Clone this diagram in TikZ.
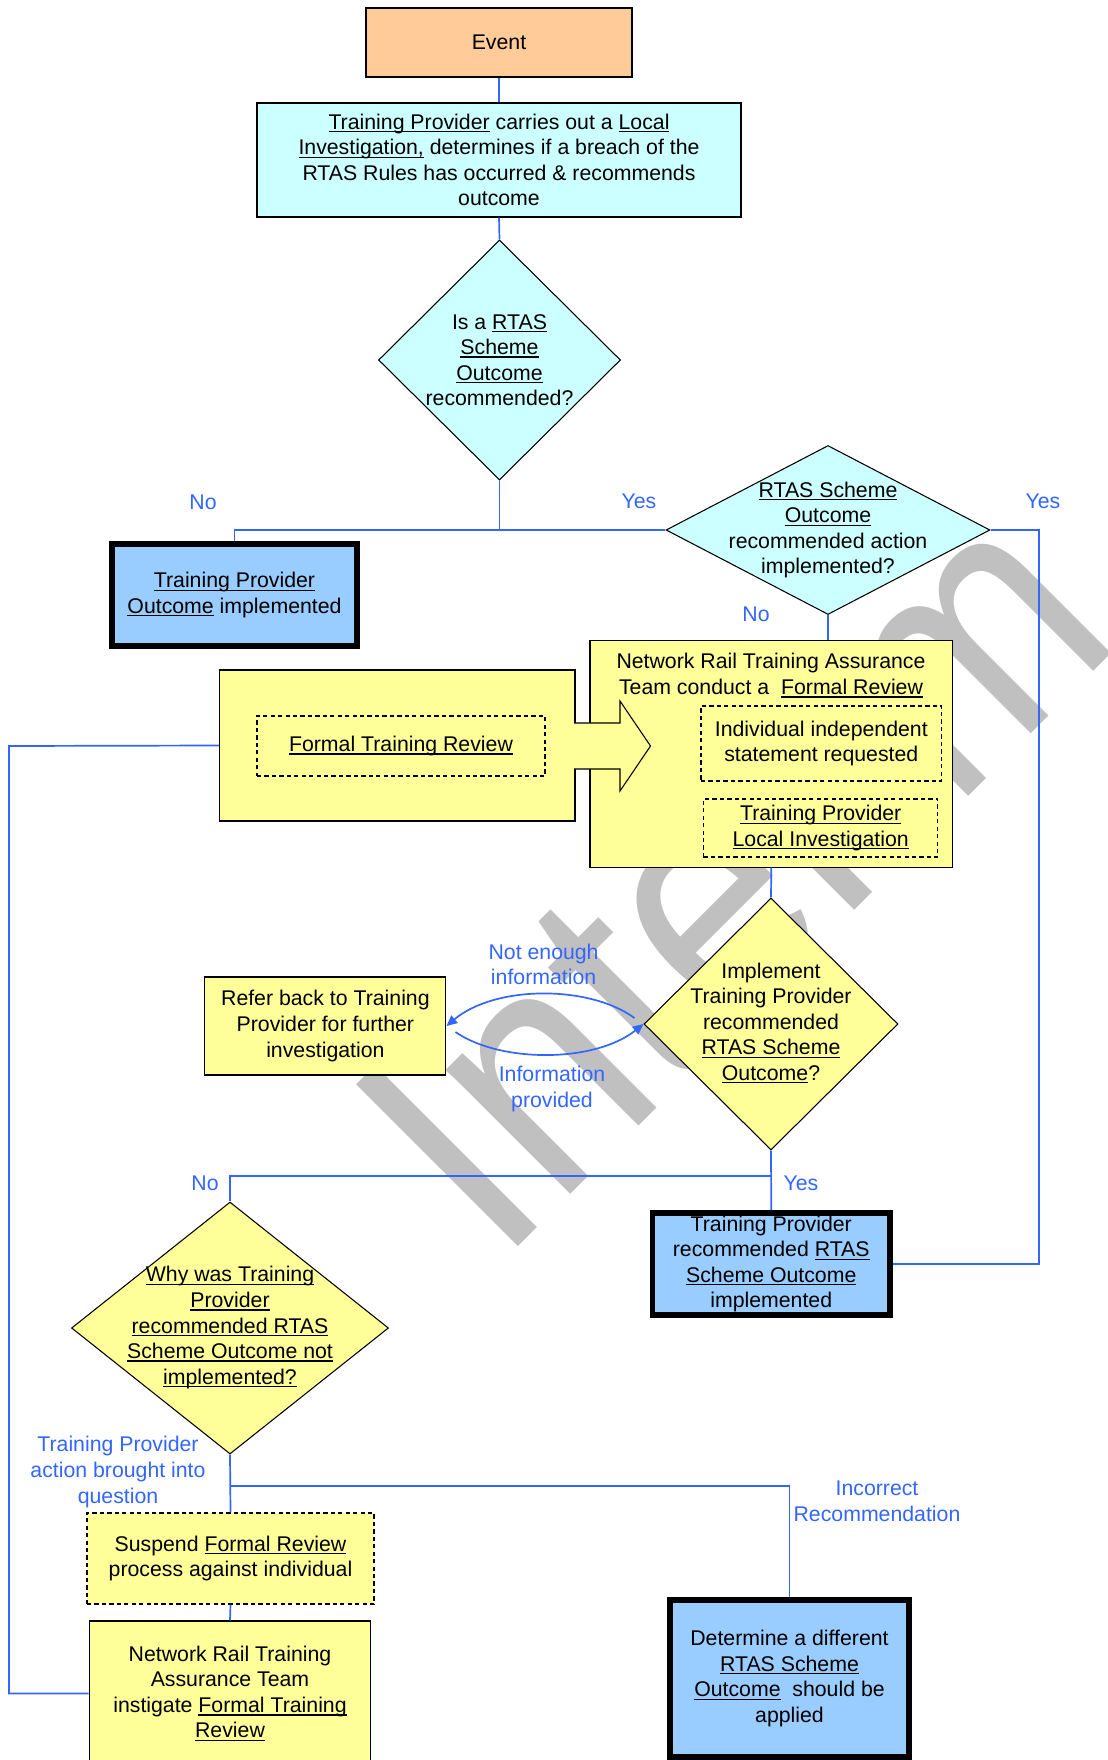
\documentclass[tikz,border=0pt]{standalone}
\usepackage{fontspec}
\setmainfont{Liberation Sans}
\usetikzlibrary{shapes.geometric,arrows.meta}
\definecolor{eventfill}{RGB}{255,204,153}
\definecolor{cyanfill}{RGB}{204,255,255}
\definecolor{yellowfill}{RGB}{255,255,153}
\definecolor{bluefill}{RGB}{153,204,255}
\definecolor{flowblue}{RGB}{51,102,255}
\definecolor{wmgray}{RGB}{192,192,192}
\newsavebox\ulnbox
\newcommand\uln[1]{\sbox\ulnbox{#1}\rlap{\rule[-1.5pt]{\wd\ulnbox}{0.6pt}}\usebox\ulnbox}
\begin{document}
\begin{tikzpicture}[x=0.47pt,y=-0.47pt,
  every node/.style={font=\fontsize{10}{12}\selectfont},
  sz/.style 2 args={minimum width=#1*0.47pt, minimum height=#2*0.47pt},
  bx/.style={draw=black, line width=0.5pt, inner sep=0pt, align=center},
  tbx/.style={draw=black, line width=2.8pt, inner sep=0pt, fill=bluefill, align=center},
  dsh/.style={draw=black, line width=0.5pt, dash pattern=on 2pt off 1.5pt, inner sep=0pt, align=center},
  dia/.style={draw=black, shape=diamond, line width=0.5pt, inner sep=0pt},
  txt/.style={align=center, inner sep=0pt},
  lbl/.style={align=center, inner sep=0pt, text=flowblue},
  flow/.style={draw=flowblue, line width=0.8pt},
  tip/.style={-{Triangle[length=5pt,width=4.5pt]}},
  wm/.style={anchor=base west, rotate=45, inner sep=0pt, text=wmgray, font=\fontsize{136}{136}\selectfont}
]
\useasboundingbox (0,0) rectangle (1107,1760);
% watermark
\node[wm] (wmark) at (499,1266) {\scalebox{1}[1.15]{Interim}};

% boxes
\node[bx, fill=eventfill, sz={266}{69}] (event) at (499,42.5) {Event};
\node[bx, fill=cyanfill, sz={484}{114}] (carry) at (499,160)
  {\uln{Training Provider} carries out a \uln{Local}\\ \uln{Investigation,} determines if a breach of the\\ RTAS Rules has occurred \& recommends\\ outcome};

\node[dia, fill=cyanfill, sz={242}{240}] (d1) at (499.5,360) {};
\node[txt] (d1t) at (499.5,360) {Is a \uln{RTAS}\\ \uln{Scheme}\\ \uln{Outcome}\\ recommended?};

\node[dia, fill=cyanfill, sz={324}{169}] (d2) at (828,530) {};
\node[txt] (d2t) at (828,530) {\uln{RTAS Scheme}\\ \uln{Outcome}\\ recommended action\\ implemented?};

\node[tbx, sz={245}{102}] (tpout) at (234.5,595) {\uln{Training Provider}\\ \uln{Outcome} implemented};

\node[bx, fill=yellowfill, sz={355.4}{151}] (ftr) at (397.3,745.5) {};
\node[dsh, sz={288}{60}] (ftrin) at (401,746) {\uln{Formal Training Review}};

\node[bx, fill=yellowfill, sz={362.6}{226.5}] (nr) at (771.3,753.8) {};
\draw[draw=black, line width=0.5pt, fill=yellowfill] (574,723) -- (620,723) -- (620,701) -- (650.5,746) -- (620,791) -- (620,769) -- (574,769);
\node[txt] (nrt) at (771,675.5) {Network Rail Training Assurance\\ Team conduct a\ \ \uln{Formal Review}};
\node[dsh, sz={240.6}{75}] (nri1) at (821.3,743.5) {Individual independent\\ statement requested};
\node[dsh, sz={234.5}{58}] (nri2) at (820.7,828) {\uln{Training Provider}\\ \uln{Local Investigation}};

\node[dia, fill=yellowfill, sz={254}{252}] (d3) at (771,1024) {};
\node[txt] (d3t) at (771,1023) {Implement\\ Training Provider\\ recommended\\ \uln{RTAS Scheme}\\ \uln{Outcome}?};

\node[bx, fill=yellowfill, sz={241}{98}] (refer) at (325.4,1026) {Refer back to Training\\ Provider for further\\ investigation};

\node[tbx, sz={237.5}{102}] (tprec) at (771.25,1264) {Training Provider\\ recommended \uln{RTAS}\\ \uln{Scheme Outcome}\\ implemented};

\node[dia, fill=yellowfill, sz={317}{252}] (d4) at (230,1328) {};
\node[txt] (d4t) at (230,1327.5) {\uln{Why was Training}\\ \uln{Provider}\\ \uln{recommended RTAS}\\ \uln{Scheme Outcome not}\\ \uln{implemented?}};

\node[dsh, fill=yellowfill, sz={287}{91}] (susp) at (230.5,1558.5) {Suspend \uln{Formal Review}\\ process against individual};

\node[bx, fill=yellowfill, sz={281.6}{145}] (nrinst) at (230,1693.5) {Network Rail Training\\ Assurance Team\\ instigate \uln{Formal Training}\\ \uln{Review}};

\node[tbx, sz={239}{157}] (det) at (789.5,1678.5) {Determine a different\\ \uln{RTAS Scheme}\\ \uln{Outcome}\ \ should be\\ applied};

% connectors
\draw[flow] (event.south) -- (carry.north);
\draw[flow] (carry.south) -- (d1.north);
\coordinate (j1) at (499.5,530);
\draw[flow] (d1.south) -- (j1);
\draw[flow] (d2.west) -- (tpout.north |- d2.west) -- (tpout.north);
\coordinate (rx) at (1039,530);
\draw[flow] (d2.east) -- (rx) -- (rx |- tprec.east) -- (tprec.east);
\draw[flow] (d2.south) -- (d2.south |- nr.north);
\draw[flow] (nr.south) -- (d3.north);
\draw[flow, tip] ([shift={(-9,-6)}]d3.west) .. controls +(-45,-33) and +(49,-41) .. (refer.east);
\draw[flow, tip] ([shift={(9,6)}]refer.east) .. controls +(45,31) and +(-49,39) .. (d3.west);
\draw[flow] (d3.south) -- (tprec.north);
\coordinate (j2) at (771,1176);
\draw[flow] (j2) -| (d4.north);
\coordinate (j3) at (230,1486);
\draw[flow] (d4.south) -- (susp.north);
\draw[flow] (j3) -| (det.north);
\draw[flow] (susp.south) -- (nrinst.north);
\coordinate (lx) at (9,746);
\draw[flow] (ftr.west) -- (lx) -- (lx |- nrinst.west) -- (nrinst.west);

% labels
\node[lbl] (lno1) at (203,502) {No};
\node[lbl] (lyes1) at (639,501) {Yes};
\node[lbl] (lyes2) at (1043,501) {Yes};
\node[lbl] (lno2) at (756,614) {No};
\node[lbl] (lnei) at (543.6,964.5) {Not enough\\ information};
\node[lbl] (lip) at (552,1089) {Information\\ provided};
\node[lbl] (lno3) at (205,1183) {No};
\node[lbl] (lyes3) at (801,1183) {Yes};
\node[lbl] (ltp) at (118,1472) {Training Provider\\ action brought into\\ question};
\node[lbl] (linc) at (877,1501.5) {Incorrect\\ Recommendation};
\end{tikzpicture}
\end{document}
